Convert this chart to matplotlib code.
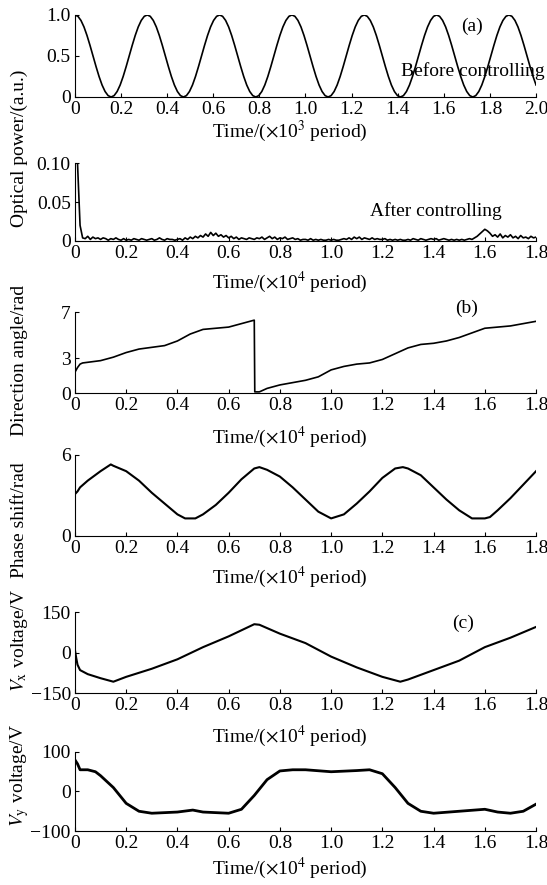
import numpy as np
import matplotlib
matplotlib.use('Agg')
import matplotlib.pyplot as plt

plt.rcParams['font.family'] = 'serif'
plt.rcParams['font.serif'] = ['Liberation Serif', 'DejaVu Serif']
plt.rcParams['mathtext.fontset'] = 'stix'
plt.rcParams['font.size'] = 14

# (a) optical power before controlling, x in 10^3 period, 0..2.0
one_cycle = [1.0, 0.983, 0.933, 0.854, 0.75, 0.629, 0.5, 0.371, 0.25, 0.146, 0.067, 0.017,
             0.0, 0.017, 0.067, 0.146, 0.25, 0.371, 0.5, 0.629, 0.75, 0.854, 0.933, 0.983]
power_before = one_cycle * 6 + one_cycle[:10]

# (a) optical power after controlling, milli units, step 0.01 (x10^4 period)
power_after_milli = [
    100, 100, 20, 4, 3, 6, 2, 5, 3, 4,
    2, 4, 3, 1, 3, 2, 4, 2, 1, 3,
    1, 2, 1, 3, 2, 1, 3, 2, 1, 2,
    3, 1, 2, 4, 2, 1, 3, 2, 2, 1,
    2, 3, 1, 4, 2, 5, 3, 6, 4, 7,
    5, 9, 6, 11, 7, 10, 6, 8, 5, 7,
    4, 6, 3, 5, 2, 4, 3, 2, 4, 3,
    2, 4, 3, 5, 2, 4, 6, 3, 5, 2,
    4, 3, 5, 2, 3, 4, 2, 3, 1, 2,
    2, 1, 3, 1, 2, 1, 2, 1, 1, 2,
    1, 2, 1, 1, 2, 3, 2, 4, 2, 5,
    3, 5, 2, 4, 3, 2, 4, 2, 3, 2,
    2, 3, 1, 2, 1, 2, 1, 2, 1, 1,
    2, 1, 3, 2, 1, 3, 2, 1, 2, 3,
    2, 3, 1, 2, 3, 2, 1, 2, 1, 2,
    1, 2, 1, 2, 3, 2, 4, 6, 9, 12,
    15, 13, 10, 6, 8, 5, 9, 4, 7, 5,
    8, 4, 6, 3, 7, 4, 5, 3, 6, 4,
    5]

# (b) direction angle
angle_t = [0, 0.01, 0.02, 0.03, 0.1, 0.15, 0.2, 0.25, 0.3, 0.35, 0.4, 0.45, 0.5, 0.55,
           0.6, 0.65, 0.7, 0.702, 0.72, 0.75, 0.8, 0.85, 0.9, 0.95, 1.0, 1.05, 1.1,
           1.15, 1.2, 1.25, 1.3, 1.35, 1.4, 1.45, 1.5, 1.55, 1.6, 1.65, 1.7, 1.75, 1.8]
angle = [1.8, 2.2, 2.5, 2.6, 2.8, 3.1, 3.5, 3.8, 3.95, 4.1, 4.5, 5.1, 5.5, 5.6,
         5.7, 6.0, 6.3, 0.1, 0.1, 0.4, 0.7, 0.9, 1.1, 1.4, 2.0, 2.3, 2.5,
         2.6, 2.9, 3.4, 3.9, 4.2, 4.3, 4.5, 4.8, 5.2, 5.6, 5.7, 5.8, 6.0, 6.2]

# (b) phase shift
phase_t = [0, 0.01, 0.02, 0.05, 0.1, 0.14, 0.15, 0.2, 0.25, 0.3, 0.35, 0.4, 0.43, 0.47,
           0.5, 0.55, 0.6, 0.65, 0.7, 0.72, 0.75, 0.8, 0.85, 0.9, 0.95, 1.0, 1.05,
           1.1, 1.15, 1.2, 1.25, 1.28, 1.3, 1.35, 1.4, 1.45, 1.5, 1.55, 1.6, 1.62,
           1.65, 1.7, 1.75, 1.8]
phase = [3.1, 3.3, 3.6, 4.1, 4.8, 5.3, 5.2, 4.8, 4.1, 3.2, 2.4, 1.6, 1.3, 1.3,
         1.6, 2.3, 3.2, 4.2, 5.0, 5.1, 4.9, 4.4, 3.6, 2.7, 1.8, 1.3, 1.6,
         2.4, 3.3, 4.3, 5.0, 5.1, 5.0, 4.5, 3.6, 2.7, 1.9, 1.3, 1.3, 1.4,
         1.9, 2.8, 3.8, 4.8]

# (c) Vx voltage
vx_t = [0, 0.005, 0.01, 0.02, 0.05, 0.1, 0.15, 0.2, 0.3, 0.4, 0.5, 0.6, 0.7, 0.72,
        0.8, 0.9, 1.0, 1.1, 1.2, 1.27, 1.3, 1.4, 1.5, 1.6, 1.7, 1.8]
vx = [10, -20, -45, -65, -80, -95, -108, -90, -60, -25, 20, 60, 105, 103,
      70, 35, -15, -55, -90, -108, -100, -65, -30, 20, 55, 95]

# (c) Vy voltage
vy_t = [0, 0.01, 0.02, 0.05, 0.08, 0.1, 0.15, 0.2, 0.25, 0.3, 0.4, 0.46, 0.5, 0.6,
        0.65, 0.7, 0.75, 0.8, 0.85, 0.9, 1.0, 1.1, 1.15, 1.2, 1.25, 1.3, 1.35,
        1.4, 1.5, 1.6, 1.65, 1.7, 1.75, 1.8]
vy = [80, 70, 55, 55, 50, 40, 10, -30, -50, -55, -52, -47, -52, -55,
      -45, -10, 30, 52, 55, 55, 50, 53, 55, 45, 10, -30, -50,
      -55, -50, -45, -52, -55, -50, -32]

fig = plt.figure(figsize=(5.47, 8.85), dpi=100)
left, width = 0.137, 0.843
boxes = [(0.8904, 0.0927), (0.7277, 0.0881), (0.5559, 0.0915),
         (0.3944, 0.0915), (0.2169, 0.0915), (0.0610, 0.0893)]
axes = [fig.add_axes([left, b, width, h]) for b, h in boxes]

xlab4 = r'Time/($\times$10$^4$ period)'
xt18 = np.arange(0, 1.81, 0.2)
xt18_lab = ['0'] + ['%.1f' % v for v in xt18[1:]]

for ax in axes:
    ax.spines['top'].set_visible(False)
    ax.spines['right'].set_visible(False)
    ax.tick_params(direction='in', length=3, width=0.8, pad=3)
    ax.set_xlim(0, 1.8)
    ax.set_xticks(xt18)
    ax.set_xticklabels(xt18_lab)
    ax.set_xlabel(xlab4)

lw = 1.2
ax = axes[0]
t_before = np.linspace(0, 2.0, len(power_before))
ax.plot(t_before, power_before, color='black', lw=lw)
ax.set_xlim(0, 2.0)
xt20 = np.arange(0, 2.01, 0.2)
ax.set_xticks(xt20)
ax.set_xticklabels(['0'] + ['%.1f' % v for v in xt20[1:]])
ax.set_ylim(0, 1.0)
ax.set_yticks([0, 0.5, 1.0])
ax.set_yticklabels(['0', '0.5', '1.0'])
ax.set_xlabel(r'Time/($\times$10$^3$ period)')
ax.text(1.72, 0.86, '(a)', ha='center', va='center')
ax.text(1.726, 0.32, 'Before controlling', ha='center', va='center', clip_on=False)

ax = axes[1]
t_after = np.linspace(0, 1.8, len(power_after_milli))
ax.plot(t_after, np.array(power_after_milli) / 1000.0, color='black', lw=lw)
ax.set_ylim(0, 0.10)
ax.set_yticks([0, 0.05, 0.10])
ax.set_yticklabels(['0', '0.05', '0.10'])
ax.text(1.41, 0.0385, 'After controlling', ha='center', va='center')

ax = axes[2]
ax.plot(angle_t, angle, color='black', lw=lw)
ax.set_ylim(0, 7)
ax.set_yticks([0, 3, 7])
ax.text(1.527, 7.3, '(b)', ha='center', va='center', clip_on=False)

ax = axes[3]
ax.plot(phase_t, phase, color='black', lw=1.5)
ax.set_ylim(0, 6)
ax.set_yticks([0, 6])

ax = axes[4]
ax.plot(vx_t, vx, color='black', lw=1.5)
ax.set_ylim(-150, 150)
ax.set_yticks([-150, 0, 150])
ax.text(1.515, 108, '(c)', ha='center', va='center')

ax = axes[5]
ax.plot(vy_t, vy, color='black', lw=2.0)
ax.set_ylim(-100, 100)
ax.set_yticks([-100, 0, 100])

# x-label centres sit a little left of the axes centre in the reference
label_y = [-0.26, -0.365, -0.39, -0.36, -0.377, -0.31]
for ax, ly in zip(axes, label_y):
    ax.xaxis.set_label_coords(0.465, ly)

fig.text(0.035, 1 - 148 / 885, 'Optical power/(a.u.)', rotation=90, ha='center', va='center')
fig.text(0.035, 1 - 360 / 885, 'Direction angle/rad', rotation=90, ha='center', va='center')
fig.text(0.035, 1 - 520 / 885, 'Phase shift/rad', rotation=90, ha='center', va='center')
fig.text(0.035, 1 - 640 / 885, r'$V_{\rm x}$ voltage/V', rotation=90, ha='center', va='center')
fig.text(0.035, 1 - 775 / 885, r'$V_{\rm y}$ voltage/V', rotation=90, ha='center', va='center')

fig.savefig('out.png', dpi=100)
